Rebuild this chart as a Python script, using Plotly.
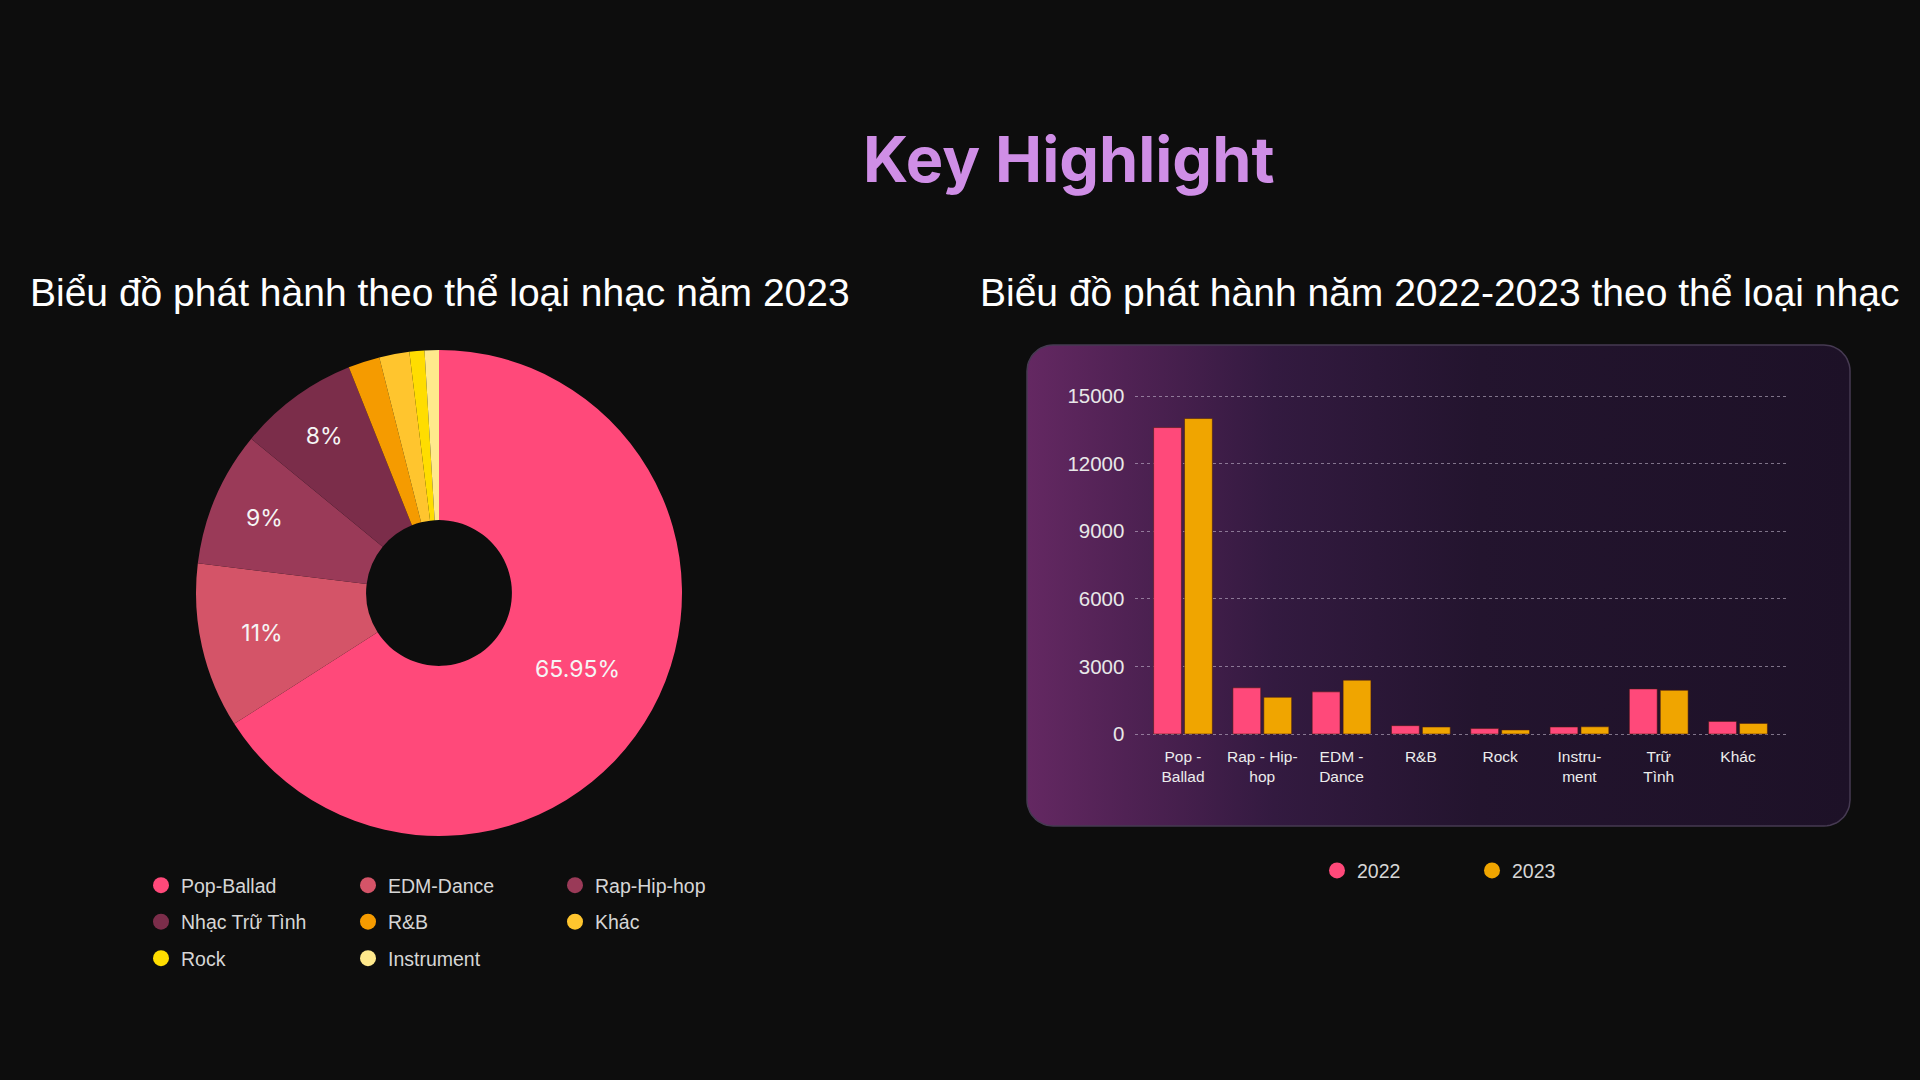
import numpy as np
import plotly.graph_objects as go

W, H = 1920, 1080

# ---------------- data ----------------
pie_genres = ["Pop-Ballad", "EDM-Dance", "Rap-Hip-hop", "Nhạc Trữ Tình",
              "R&B", "Khác", "Rock", "Instrument"]
pie_share_2023 = [65.95, 11.0, 9.0, 8.0, 2.1, 2.0, 1.0, 0.95]
pie_text = ["65.95%", "11%", "9%", "8%", "", "", "", ""]
pie_colors = ["#ff497a", "#d45468", "#9a3a58", "#7b2d4a",
              "#f59b00", "#ffc52e", "#ffdd00", "#ffe98c"]

bar_categories = ["Pop -<br>Ballad", "Rap - Hip-<br>hop", "EDM -<br>Dance", "R&B",
                  "Rock", "Instru-<br>ment", "Trữ<br>Tình", "Khác"]
releases_2022 = [13600, 2050, 1870, 370, 240, 310, 2000, 560]
releases_2023 = [14000, 1630, 2390, 310, 180, 320, 1940, 470]
years = ["2022", "2023"]
year_colors = ["#ff497a", "#f0a500"]
y_ticks = [0, 3000, 6000, 9000, 12000, 15000]

# ---------------- helpers ----------------
def px_x(v):
    return v / W

def px_y(v):
    return 1 - v / H

def rounded_rect(x0, y0, x1, y1, r, n=14):
    xs, ys = [], []
    for cx, cy, a0 in [(x1 - r, y0 + r, -90), (x1 - r, y1 - r, 0),
                       (x0 + r, y1 - r, 90), (x0 + r, y0 + r, 180)]:
        ang = np.radians(np.linspace(a0, a0 + 90, n))
        xs += list(cx + r * np.cos(ang))
        ys += list(cy + r * np.sin(ang))
    xs.append(xs[0]); ys.append(ys[0])
    return xs, ys

FONT = "Liberation Sans, Arial, sans-serif"

fig = go.Figure()

# panel background (decoration) on a pixel-space axis pair
px_, py_ = rounded_rect(1027, 345, 1850, 826, 26)
fig.add_trace(go.Scatter(
    x=px_, y=py_, mode="lines", fill="toself",
    line=dict(color="#463a52", width=1.5),
    fillgradient=dict(type="horizontal",
                      colorscale=[[0, "#642862"], [0.12, "#502254"], [0.3, "#331a40"],
                                  [0.55, "#23142e"], [1, "#1d1127"]]),
    hoverinfo="skip", showlegend=False, xaxis="x", yaxis="y"))

# pie (donut)
fig.add_trace(go.Pie(
    labels=pie_genres, values=pie_share_2023, text=pie_text,
    textinfo="text", textposition="inside", insidetextorientation="horizontal",
    sort=False, direction="clockwise", rotation=0, hole=0.3,
    marker=dict(colors=pie_colors, line=dict(width=0)),
    textfont=dict(family="Inter, sans-serif", size=23, color="#f5f5f5"),
    domain=dict(x=[px_x(192.2), px_x(685.8)], y=[px_y(836), px_y(350)]),
    showlegend=False, hoverinfo="label+value"))

# bars
for name, vals, col in zip(years, [releases_2022, releases_2023], year_colors):
    fig.add_trace(go.Bar(
        x=bar_categories, y=vals, name=name,
        marker=dict(color=col, line=dict(width=1, color="rgba(70,25,20,0.55)")),
        xaxis="x2", yaxis="y2", showlegend=False))

# legend entries (circle markers) for pie - three rows
rows = [pie_genres[0:3], pie_genres[3:6], pie_genres[6:8]]
row_colors = [pie_colors[0:3], pie_colors[3:6], pie_colors[6:8]]
legend_ids = ["legend", "legend2", "legend3"]
for lid, names, cols in zip(legend_ids, rows, row_colors):
    for n, c in zip(names, cols):
        fig.add_trace(go.Scatter(x=[None], y=[None], mode="markers", name=n,
                                 marker=dict(color=c, size=16, symbol="circle"),
                                 legend=lid, xaxis="x", yaxis="y"))
# legend entries for bars
for n, c in zip(years, year_colors):
    fig.add_trace(go.Scatter(x=[None], y=[None], mode="markers", name=n,
                             marker=dict(color=c, size=16, symbol="circle"),
                             legend="legend4", xaxis="x", yaxis="y"))

leg_font = dict(family=FONT, size=19.5, color="#d6d6d6")
def leg(xpx, ypx, ew):
    return dict(orientation="h", x=px_x(xpx), y=px_y(ypx), xanchor="left", yanchor="middle",
                font=leg_font, bgcolor="rgba(0,0,0,0)", borderwidth=0,
                entrywidth=ew, entrywidthmode="pixels", itemsizing="trace",
                traceorder="normal")

fig.update_layout(
    width=W, height=H,
    paper_bgcolor="#0d0d0d", plot_bgcolor="rgba(0,0,0,0)",
    margin=dict(l=0, r=0, t=0, b=0, autoexpand=False),
    barmode="group", bargap=0.22, bargroupgap=0.1,
    xaxis=dict(domain=[0, 1], range=[0, W], visible=False, fixedrange=True),
    yaxis=dict(domain=[0, 1], range=[H, 0], visible=False, fixedrange=True),
    xaxis2=dict(domain=[px_x(1135.4), px_x(1785.6)], range=[-0.6, 7.6], anchor="y2",
                type="category", showgrid=False, showline=False, zeroline=False, ticks="",
                tickangle=0,
                tickfont=dict(family=FONT, size=15.5, color="#ececec"), ticklabelstandoff=10),
    yaxis2=dict(domain=[px_y(735.35), px_y(394.2)], range=[-60, 15080], anchor="x2",
                tickvals=y_ticks, tickformat="d", showgrid=True,
                gridcolor="rgba(205,195,215,0.55)",
                griddash="dot", gridwidth=1, zeroline=False, showline=False, ticks="",
                tickfont=dict(family=FONT, size=20.5, color="#e8e8e8"), ticklabelstandoff=10),
    legend=leg(141, 885.5, 162),
    legend2=leg(141, 922, 162),
    legend3=leg(141, 958.5, 162),
    legend4=leg(1317, 870.7, 110),
    annotations=[
        dict(text="<b>Key Highlight</b>", x=px_x(1068), y=px_y(159.3), xref="paper", yref="paper",
             showarrow=False, xanchor="center", yanchor="middle",
             font=dict(family="Inter, sans-serif", size=63, color="#cf8ee6")),
        dict(text="Biểu đồ phát hành theo thể loại nhạc năm 2023", x=px_x(440), y=px_y(292),
             xref="paper", yref="paper", showarrow=False, xanchor="center", yanchor="middle",
             font=dict(family=FONT, size=39, color="#ffffff")),
        dict(text="Biểu đồ phát hành năm 2022-2023 theo thể loại nhạc", x=px_x(1439), y=px_y(292),
             xref="paper", yref="paper", showarrow=False, xanchor="center", yanchor="middle",
             font=dict(family=FONT, size=39, color="#ffffff")),
    ],
)

fig.write_html("out.html", config={"displayModeBar": False},
               post_script="document.body.style.margin='0';"
                           "document.body.style.background='#0d0d0d';")
